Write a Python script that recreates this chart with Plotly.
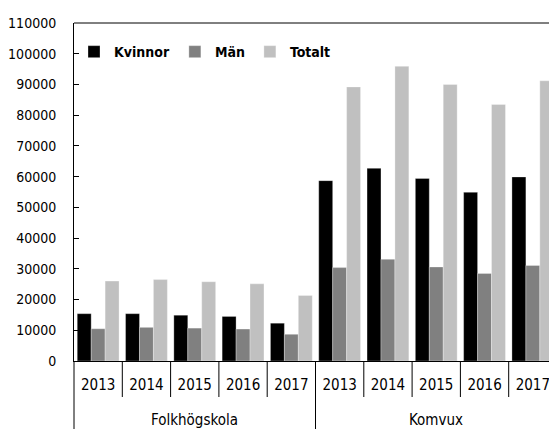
import plotly.graph_objects as go

schools = ["Folkhögskola"] * 5 + ["Komvux"] * 5
years = ["2013", "2014", "2015", "2016", "2017"] * 2

kvinnor = [15400, 15400, 14900, 14500, 12300, 58700, 62700, 59400, 54900, 59900]
man = [10500, 10950, 10700, 10400, 8700, 30400, 33100, 30600, 28500, 31100]
totalt = [26000, 26500, 25800, 25100, 21300, 89200, 95900, 90000, 83500, 91200]

series = [("Kvinnor", kvinnor, "#000000"), ("Män", man, "#808080"), ("Totalt", totalt, "#c0c0c0")]

FONT = "DejaVu Sans Condensed, Liberation Sans Narrow, Arial Narrow, sans-serif"
FS = 15

keys = [f"{s} {y}" for s, y in zip(schools, years)]
N = len(keys)

PLOT_H = 338

fig = go.Figure()
for name, vals, col in series:
    fig.add_trace(go.Bar(x=keys, y=vals, name=name,
                         marker=dict(color=col, line=dict(width=0.5, color="rgba(255,255,255,0.6)"))))

fig.update_layout(
    width=549, height=421,
    margin=dict(l=66, r=0, t=15, b=68),
    paper_bgcolor="white", plot_bgcolor="white",
    barmode="group", bargap=0.134, bargroupgap=0,
    font=dict(family=FONT, size=FS, color="black"),
    showlegend=True,
    legend=dict(orientation="h", x=0.0, xanchor="left", y=0.914, yanchor="middle",
                font=dict(family=FONT, size=14, color="black", weight="bold"),
                itemwidth=30, bgcolor="rgba(0,0,0,0)"),
)
fig.update_xaxes(
    type="category", range=[-0.5, N - 0.5], automargin=False,
    tickmode="array", tickvals=keys, ticktext=years,
    showline=True, linecolor="black", linewidth=1,
    ticks="", ticklabelstandoff=10,
    showgrid=False, tickfont=dict(family=FONT, size=FS, color="black"),
)
fig.update_yaxes(
    range=[0, 110000], dtick=10000, tick0=0, tickformat="d", automargin=False,
    showline=True, linecolor="black", linewidth=1,
    ticks="inside", ticklen=5, tickcolor="black",
    showgrid=False, zeroline=False,
    ticklabelstandoff=14,
    tickfont=dict(family=FONT, size=14, color="black"),
)

# top border
fig.add_shape(type="line", xref="paper", yref="paper", x0=0, x1=1, y0=1, y1=1,
              line=dict(color="black", width=1))

# boundaries between categories and group dividers
group_starts = [i for i in range(N) if i == 0 or schools[i] != schools[i - 1]]
for i in range(1, N):
    if i in group_starts:
        continue
    fig.add_shape(type="line", xref="paper", yref="paper", x0=i / N, x1=i / N,
                  y0=0, y1=-36 / PLOT_H, line=dict(color="black", width=1))
for i in group_starts:
    fig.add_shape(type="line", xref="paper", yref="paper", x0=i / N, x1=i / N,
                  y0=0, y1=-0.25, line=dict(color="black", width=1))

# group labels
bounds = group_starts + [N]
for a, b in zip(bounds[:-1], bounds[1:]):
    fig.add_annotation(text=schools[a], xref="paper", yref="paper",
                       x=(a + b) / 2 / N, y=-59 / PLOT_H, xanchor="center", yanchor="middle",
                       showarrow=False, font=dict(family=FONT, size=FS, color="black"))

fig.write_html("out.html")
